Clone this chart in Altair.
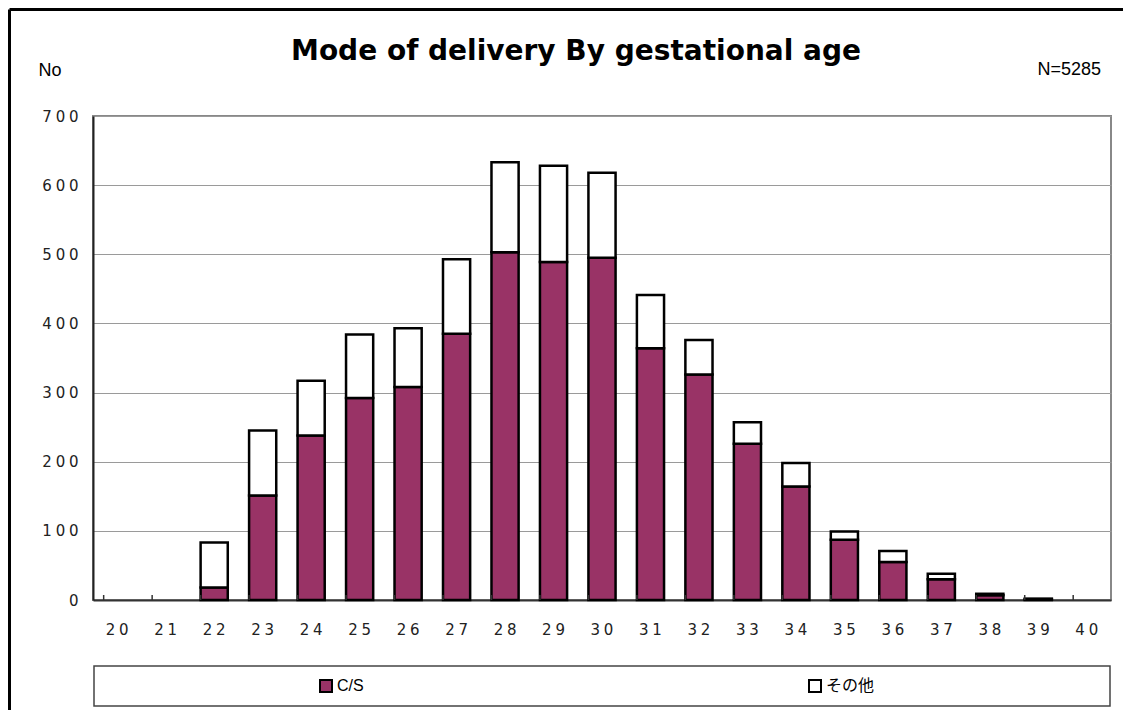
import altair as alt
import pandas as pd

weeks = list(range(20, 41))
cs_values = [0, 0, 18, 151, 238, 292, 308, 385, 503, 489, 495, 364, 326, 226, 164, 87, 55, 30, 7, 1, 0]
other_values = [0, 0, 65, 94, 79, 92, 85, 108, 130, 139, 123, 77, 50, 31, 34, 12, 16, 8, 2, 1, 0]
series = ["C/S", "その他"]
colors = ["#993366", "#ffffff"]
y_ticks = [0, 100, 200, 300, 400, 500, 600, 700]
title_text = "Mode of delivery By gestational age"
n_label = "N=5285"
y_title = "No"

rows = []
for w, c, o in zip(weeks, cs_values, other_values):
    rows.append({"week": w, "series": series[0], "value": c, "ord": 0})
    rows.append({"week": w, "series": series[1], "value": o, "ord": 1})
df = pd.DataFrame(rows)

W, H = 1018, 484
spaced = "join(split(datum.label, ''), '\u2005')"

xscale = alt.Scale(domain=weeks, paddingInner=0.44, paddingOuter=0.22)

bars = alt.Chart(df).transform_filter("datum.value > 0").mark_bar(
    stroke="black", strokeWidth=2.5
).encode(
    x=alt.X("week:O", scale=xscale,
            axis=alt.Axis(title=None, labelAngle=0, ticks=False, labelPadding=22,
                          labelFont="DejaVu Sans", labelFontSize=15, labelColor="#222",
                          domainColor="#333", domainWidth=2, grid=False, labelExpr=spaced)),
    y=alt.Y("value:Q", stack="zero",
            scale=alt.Scale(domain=[0, 700], nice=False),
            axis=alt.Axis(values=y_ticks, title=y_title, titleAngle=0, titleX=-55, titleY=-46,
                          titleAlign="left", titleBaseline="middle", titleFont="Liberation Sans",
                          titleFontSize=18, titleFontWeight="normal", titleColor="black",
                          labelFont="DejaVu Sans", labelFontSize=15, labelColor="#222",
                          labelPadding=15, ticks=False, domainColor="#222", domainWidth=2,
                          gridColor="#9a9a9a", gridWidth=1, labelExpr=spaced)),
    color=alt.Color("series:N", scale=alt.Scale(domain=series, range=colors),
                    legend=alt.Legend(title=None, orient="none", legendX=225, legendY=562,
                                      direction="horizontal", symbolType="square",
                                      symbolSize=144, symbolStrokeColor="black",
                                      symbolStrokeWidth=2,
                                      labelFont="Liberation Sans, Noto Sans CJK JP",
                                      labelFontSize=16, labelColor="black",
                                      columnPadding=441, labelOffset=3)),
    order=alt.Order("ord:Q", sort="ascending"),
)

tick_df = pd.DataFrame({"week": weeks})
xticks = alt.Chart(tick_df).mark_rule(color="#333", strokeWidth=1.5).encode(
    x=alt.X("week:O", scale=xscale, bandPosition=0),
    y=alt.value(H),
    y2=alt.value(H - 5),
)

one = alt.Data(values=[{}])
legend_box = alt.Chart(one).mark_rect(fill="white", stroke="#444", strokeWidth=1.5).encode(
    x=alt.value(1), x2=alt.value(1017), y=alt.value(550), y2=alt.value(590)
)
frame_top = alt.Chart(one).mark_rule(color="black", strokeWidth=3).encode(
    x=alt.value(-83.5), x2=alt.value(1040), y=alt.value(-106.5)
)
frame_left = alt.Chart(one).mark_rule(color="black", strokeWidth=3).encode(
    x=alt.value(-83.5), y=alt.value(-106.5), y2=alt.value(600)
)
n_text = alt.Chart(one).mark_text(
    align="right", baseline="middle", font="Liberation Sans", fontSize=18, color="black"
).encode(x=alt.value(1008), y=alt.value(-46), text=alt.value(n_label))

chart = alt.layer(legend_box, bars, xticks, frame_top, frame_left, n_text).properties(
    width=W, height=H,
    autosize="none",
    padding={"left": 85, "top": 108, "right": 12, "bottom": 110},
    title=alt.TitleParams(title_text, font="DejaVu Sans", fontSize=28, fontWeight="bold",
                          anchor="middle", frame="group", dx=-26, dy=80, offset=0,
                          baseline="alphabetic", color="black"),
).configure_view(stroke="#888", strokeWidth=2)

chart.save("out.html", embed_options={"renderer": "svg", "actions": False})
